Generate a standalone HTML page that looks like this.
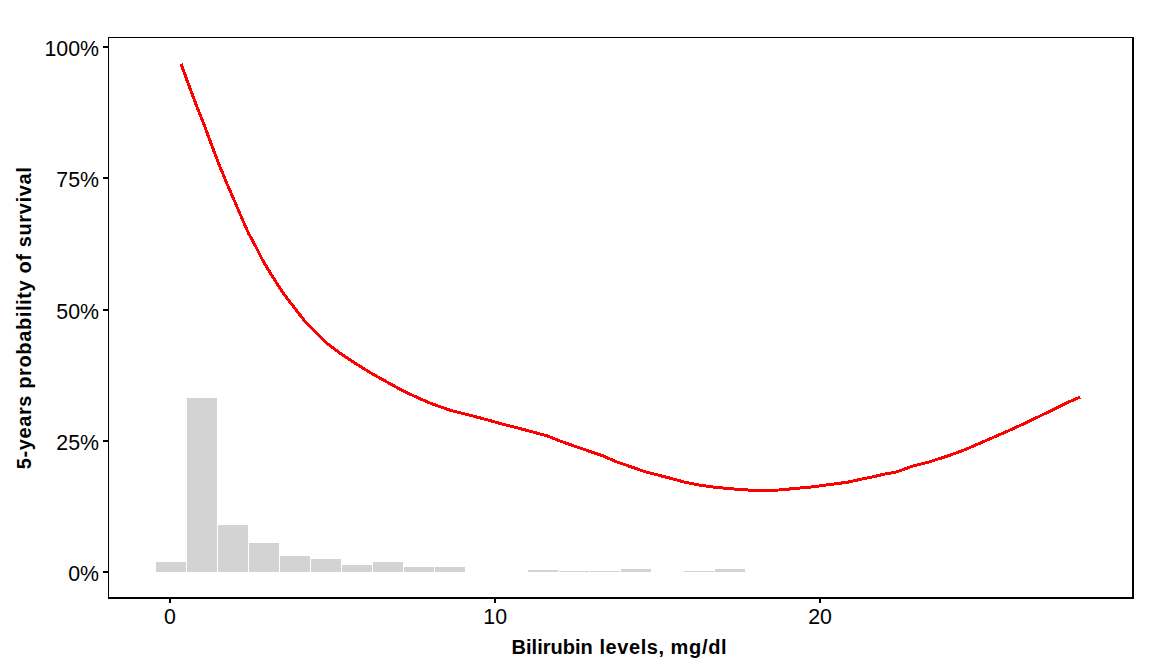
<!DOCTYPE html>
<html><head><meta charset="utf-8"><title>chart</title>
<style>
html,body{margin:0;padding:0;background:#fff;}
body{width:1152px;height:672px;overflow:hidden;font-family:"Liberation Sans",sans-serif;}
svg{display:block}
text{font-family:"Liberation Sans",sans-serif;fill:#000}
.tk{font-size:21.33px}
.ti{font-size:20px;font-weight:bold}
</style></head><body>
<svg width="1152" height="672" viewBox="0 0 1152 672">
<rect width="1152" height="672" fill="#fff"/>
<g fill="#d3d3d3" shape-rendering="crispEdges"><rect x="156" y="562" width="30" height="10"/><rect x="187" y="398" width="30" height="174"/><rect x="218" y="525" width="30" height="47"/><rect x="249" y="543" width="30" height="29"/><rect x="280" y="556" width="30" height="16"/><rect x="311" y="559" width="30" height="13"/><rect x="342" y="565" width="30" height="7"/><rect x="373" y="562" width="30" height="10"/><rect x="404" y="567" width="30" height="5"/><rect x="435" y="567" width="30" height="5"/><rect x="528" y="570" width="30" height="2"/><rect x="559" y="571" width="30" height="1"/><rect x="590" y="571" width="30" height="1"/><rect x="621" y="569" width="30" height="3"/><rect x="684" y="571" width="30" height="1"/><rect x="715" y="569" width="30" height="3"/></g>
<path d="M181,63.75 L188.75,85 L196.25,105 L203.75,123.75 L210.5,142 L218.75,163.75 L227.5,185 L236.25,205 L243.5,222 L248.75,233.75 L255.6,246.25 L262.5,260 L270,272.5 L278.75,286.25 L285,295.6 L292,304.6 L305.6,322.25 L327.5,343.75 L340,353.1 L355,363.1 L368.5,371.6 L382,379.2 L402.5,390.6 L420,398.75 L432.5,404 L451.25,410.6 L470,415.25 L488.75,420.25 L500,423.5 L516,427.5 L546.25,435.6 L562.5,441.9 L581.25,448.5 L602.5,455.6 L615,461.25 L631,466.8 L646,472 L667.5,477.5 L685,482.25 L698.75,485 L716.25,487.5 L727.5,488.4 L738.75,489.4 L755,490.5 L767,490.5 L778.75,490 L795,488.5 L812.5,486.9 L830,484.5 L847.5,482.25 L860,479.4 L872.5,476.9 L885,474 L895.3,472.25 L903.75,469.4 L911.25,466.5 L927.5,462.4 L946.25,456.5 L965,449.7 L983.75,441.5 L1002.5,433.4 L1019.5,425.8 L1037.5,417.2 L1051.9,410.25 L1066.25,403.1 L1080,397.1" fill="none" stroke="#ff0000" stroke-width="3" stroke-linejoin="round" shape-rendering="crispEdges"/>
<g fill="#000" shape-rendering="crispEdges">
<rect x="108" y="37" width="1" height="562"/>
<rect x="108" y="37" width="1026" height="1"/>
<rect x="1132" y="37" width="2" height="562"/>
<rect x="108" y="597" width="1026" height="2"/>
<rect x="103" y="46" width="5" height="2"/>
<rect x="103" y="177" width="5" height="2"/>
<rect x="103" y="309" width="5" height="2"/>
<rect x="103" y="440" width="5" height="2"/>
<rect x="103" y="571" width="5" height="2"/>
<rect x="169" y="599" width="2" height="4"/>
<rect x="494" y="599" width="2" height="4"/>
<rect x="819" y="599" width="2" height="4"/>
</g>
<g class="tk" text-anchor="end">
<text x="99" y="56">100%</text>
<text x="99" y="187">75%</text>
<text x="99" y="319">50%</text>
<text x="99" y="450">25%</text>
<text x="99" y="581">0%</text>
</g>
<g class="tk" text-anchor="middle">
<text x="170" y="624">0</text>
<text x="495.2" y="624">10</text>
<text x="820" y="624">20</text>
</g>
<text class="ti" x="511.6" y="653.5">Bilirubin</text>
<text class="ti" x="599.4" y="653.5" style="letter-spacing:0.6px">levels,</text>
<text class="ti" x="670.5" y="653.5" style="letter-spacing:0.7px">mg/dl</text>
<text class="ti" text-anchor="middle" style="letter-spacing:0.62px" transform="translate(31.3,318) rotate(-90)">5-years probability of survival</text>
</svg>
</body></html>
